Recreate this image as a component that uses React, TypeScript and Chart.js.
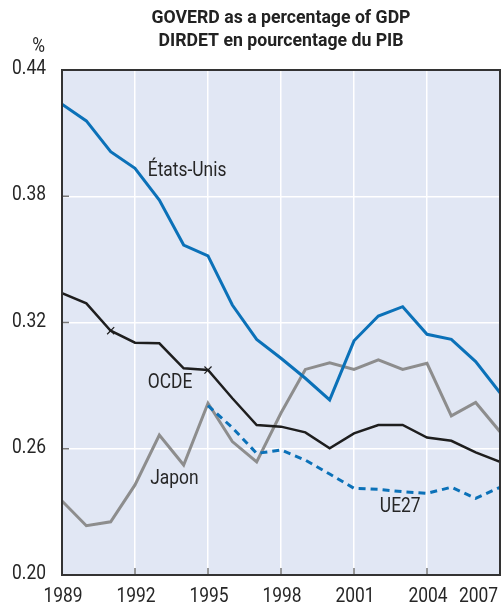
import { useEffect, useRef } from 'react';
import { Chart, registerables } from 'chart.js';

Chart.register(...registerables);

const years = [1989, 1990, 1991, 1992, 1993, 1994, 1995, 1996, 1997, 1998, 1999, 2000, 2001, 2002, 2003, 2004, 2005, 2006, 2007];
const usValues = [0.4237, 0.4158, 0.4012, 0.3933, 0.3782, 0.3568, 0.3517, 0.3283, 0.3120, 0.3030, 0.2935, 0.2832, 0.3113, 0.3231, 0.3275, 0.3144, 0.3120, 0.3014, 0.2866];
const oecdValues = [0.3339, 0.3291, 0.3161, 0.3104, 0.3101, 0.2982, 0.2974, 0.2840, 0.2713, 0.2705, 0.2678, 0.2602, 0.2673, 0.2713, 0.2713, 0.2653, 0.2638, 0.2583, 0.2538];
const japanValues = [0.2352, 0.2234, 0.2253, 0.2428, 0.2665, 0.2523, 0.2816, 0.2634, 0.2538, 0.2770, 0.2977, 0.3009, 0.2977, 0.3022, 0.2977, 0.3006, 0.2756, 0.2820, 0.2681];
const eu27Values = [null, null, null, null, null, null, 0.2805, 0.2700, 0.2578, 0.2594, 0.2546, 0.2480, 0.2412, 0.2407, 0.2396, 0.2388, 0.2417, 0.2364, 0.2417];
const oecdMarkerYears = [1991, 1995];
const yTickValues = [0.2, 0.26, 0.32, 0.38, 0.44];
const xTickYears = [1989, 1992, 1995, 1998, 2001, 2004, 2007];
const titleLines = ['GOVERD as a percentage of GDP', 'DIRDET en pourcentage du PIB'];
const unitLabel = '%';
const seriesLabels = [
  { text: 'États-Unis', year: 1994.14, value: 0.3920 },
  { text: 'OCDE', year: 1993.44, value: 0.2912 },
  { text: 'Japon', year: 1993.62, value: 0.2456 },
  { text: 'UE27', year: 2002.9, value: 0.2323 },
];

const FONT = 'Roboto, "DejaVu Sans Condensed", sans-serif';
const SX = 0.87;
const BLUE = '#0b71b8';
const GREY = '#8d8d8d';
const BLACK = '#1e1e1e';
const TEXT = '#262626';

const toPoints = (vals: (number | null)[]) =>
  years.map((yr, i) => ({ x: yr, y: vals[i] })).filter((p) => p.y !== null);

function drawText(ctx: CanvasRenderingContext2D, s: string, x: number, y: number, align: CanvasTextAlign, font: string, sx = SX) {
  ctx.save();
  ctx.font = font;
  ctx.translate(x, y);
  ctx.scale(sx, 1);
  ctx.textAlign = align;
  ctx.textBaseline = 'middle';
  ctx.fillText(s, 0, 0);
  ctx.restore();
}

export default function App() {
  const ref = useRef<HTMLCanvasElement | null>(null);

  useEffect(() => {
    if (!ref.current) return;
    const decor = {
      id: 'decor',
      beforeDraw(chart: any) {
        const { ctx, chartArea: a } = chart;
        ctx.save();
        ctx.fillStyle = '#e1e7f4';
        ctx.fillRect(a.left, a.top, a.right - a.left, a.bottom - a.top);
        ctx.restore();
      },
      afterDraw(chart: any) {
        const { ctx, chartArea: a, scales } = chart;
        const xs = scales.x;
        const ys = scales.y;
        ctx.save();
        // inner ticks
        ctx.strokeStyle = '#777';
        ctx.lineWidth = 1.5;
        yTickValues.forEach((v) => {
          const y = ys.getPixelForValue(v);
          ctx.beginPath();
          ctx.moveTo(a.left, y);
          ctx.lineTo(a.left + 7, y);
          ctx.stroke();
        });
        xTickYears.forEach((yr) => {
          const x = xs.getPixelForValue(yr);
          ctx.beginPath();
          ctx.moveTo(x, a.bottom);
          ctx.lineTo(x, a.bottom - 7);
          ctx.stroke();
        });
        // border
        ctx.strokeStyle = '#333';
        ctx.lineWidth = 2;
        ctx.strokeRect(a.left, a.top, a.right - a.left, a.bottom - a.top);

        ctx.fillStyle = TEXT;
        const f = `20px ${FONT}`;
        // y labels
        yTickValues.forEach((v) => {
          drawText(ctx, v.toFixed(2), a.left - 16, ys.getPixelForValue(v) - 1, 'right', f);
        });
        // x labels
        xTickYears.forEach((yr, i) => {
          const x = xs.getPixelForValue(yr);
          if (i === xTickYears.length - 1) {
            drawText(ctx, String(yr), a.right - 2, a.bottom + 22, 'right', f);
          } else {
            drawText(ctx, String(yr), x + 1, a.bottom + 22, 'center', f);
          }
        });
        // unit
        drawText(ctx, unitLabel, a.left - 17, 47, 'right', f);
        // series labels
        seriesLabels.forEach((l) => {
          drawText(ctx, l.text, xs.getPixelForValue(l.year), ys.getPixelForValue(l.value), 'center', f);
        });
        // title
        ctx.fillStyle = '#222';
        const cx = (a.left + a.right) / 2;
        const tf = `bold 19px ${FONT}`;
        drawText(ctx, titleLines[0], cx, 18, 'center', tf, 0.93);
        drawText(ctx, titleLines[1], cx, 41, 'center', tf, 0.93);
        ctx.restore();
      },
    };

    const chart = new Chart(ref.current, {
      type: 'line',
      data: {
        datasets: [
          {
            label: 'UE27',
            data: toPoints(eu27Values) as any,
            borderColor: BLUE,
            borderWidth: 3,
            borderDash: [7, 5],
            pointRadius: 0,
            tension: 0,
          },
          {
            label: 'États-Unis',
            data: toPoints(usValues) as any,
            borderColor: BLUE,
            borderWidth: 3,
            pointRadius: 0,
            tension: 0,
          },
          {
            label: 'OCDE',
            data: toPoints(oecdValues) as any,
            borderColor: BLACK,
            borderWidth: 2.5,
            pointStyle: 'crossRot',
            pointRadius: years.map((yr) => (oecdMarkerYears.includes(yr) ? 5 : 0)),
            pointBorderColor: BLACK,
            pointBorderWidth: 1.2,
            tension: 0,
          },
          {
            label: 'Japon',
            data: toPoints(japanValues) as any,
            borderColor: GREY,
            borderWidth: 3,
            pointRadius: 0,
            tension: 0,
          },
        ],
      },
      options: {
        animation: false,
        responsive: false,
        layout: { padding: { left: 0, right: 4, top: 70, bottom: 0 } },
        plugins: { legend: { display: false }, tooltip: { enabled: false }, title: { display: false } },
        scales: {
          x: {
            type: 'linear',
            min: 1989,
            max: 2007,
            afterBuildTicks: (s: any) => {
              s.ticks = xTickYears.map((v) => ({ value: v }));
            },
            afterFit: (s: any) => {
              s.height = 34;
              s.paddingLeft = 0;
              s.paddingRight = 0;
            },
            ticks: { display: false },
            grid: { color: '#ffffff', lineWidth: 1.5, drawTicks: false },
            border: { display: false },
          },
          y: {
            type: 'linear',
            min: 0.2,
            max: 0.44,
            afterBuildTicks: (s: any) => {
              s.ticks = yTickValues.map((v) => ({ value: v }));
            },
            afterFit: (s: any) => {
              s.width = 62;
              s.paddingTop = 0;
              s.paddingBottom = 0;
            },
            ticks: { display: false },
            grid: { color: '#ffffff', lineWidth: 1.5, drawTicks: false },
            border: { display: false },
          },
        },
      },
      plugins: [decor],
    });
    return () => chart.destroy();
  }, []);

  return (
    <canvas
      ref={ref}
      width={504}
      height={609}
      style={{ position: 'absolute', left: 0, top: 0, display: 'block' }}
    />
  );
}
